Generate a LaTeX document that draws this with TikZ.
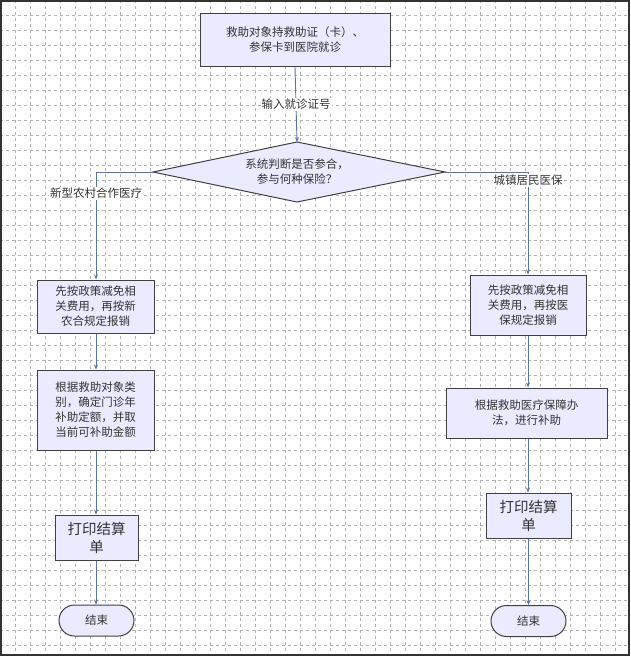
\documentclass[tikz,border=0pt]{standalone}
\usepackage{fontspec}
\newfontfamily\cjk{Noto Sans CJK SC}
\usetikzlibrary{shapes.misc,arrows.meta}
\begin{document}
\begin{tikzpicture}[x=1pt,y=-1pt,
  box/.style={draw=black!75,line width=1pt,fill=blue!8!white,align=center,font=\cjk\fontsize{11.5}{15}\selectfont,text=black!80,inner sep=1pt},
  dshape/.style={draw=black!75,line width=1pt,fill=blue!8!white},
  conn/.style={draw={rgb,255:red,90;green,116;blue,168},line width=0.9pt,-{Stealth[length=5pt,width=4pt]}},
  lab/.style={font=\cjk\fontsize{11.5}{14}\selectfont,text=black!80,fill=white,inner sep=1pt}]
\useasboundingbox (0,0) rectangle (630,656);
\fill[white] (0,0) rectangle (630,656);
\foreach \i in {15,30,...,645} {\draw[black!30,dashed,line width=0.4pt] (0,\i) -- (630,\i);}
\foreach \i in {15,30,...,625} {\draw[black!30,dashed,line width=0.4pt] (\i,0) -- (\i,656);}
\draw[black!80,line width=1.5pt] (1,1) rectangle (629,655);
\node[box,minimum width=190,minimum height=53] (top) at (295,40) {救助对象持救助证（卡）、\\参保卡到医院就诊};
\draw[dshape] (153,172) coordinate (dl) -- (297,142) coordinate (dt) -- (445,172) coordinate (dr) -- (297,202) -- cycle;
\node[align=center,font=\cjk\fontsize{11.5}{15}\selectfont,text=black!80] (d) at (297,172) {系统判断是否参合，\\参与何种保险？};
\node[box,minimum width=117,minimum height=53] (l1) at (95.5,306.5) {先按政策减免相\\关费用，再按新\\农合规定报销};
\node[box,minimum width=117,minimum height=80] (l2) at (95.5,410) {根据救助对象类\\别，确定门诊年\\补助定额，并取\\当前可补助金额};
\node[box,minimum width=83,minimum height=45,font=\cjk\fontsize{14.5}{18}\selectfont] (l3) at (96.5,537.5) {打印结算\\单};
\node[box,rounded rectangle,minimum width=77,minimum height=31] (l4) at (96.5,620.5) {结束};
\node[box,minimum width=116,minimum height=60] (r1) at (528,305) {先按政策减免相\\关费用，再按医\\保规定报销};
\node[box,minimum width=161,minimum height=50] (r2) at (526.5,413) {根据救助医疗保障办\\法，进行补助};
\node[box,minimum width=85,minimum height=45,font=\cjk\fontsize{14.5}{18}\selectfont] (r3) at (528.5,515.5) {打印结算\\单};
\node[box,rounded rectangle,minimum width=77,minimum height=31] (r4) at (528.5,621) {结束};
\draw[conn] (top.south) -- node[lab]{输入就诊证号} (dt);
\draw[conn] (dl) -- (96,172) -- node[lab,pos=0.2]{新型农村合作医疗} (l1.north -| 96,0);
\draw[conn] (dr) -- (528,172) -- node[lab,pos=0.08]{城镇居民医保} (r1.north);
\draw[conn] (l1.south -| 96,0) -- (l2.north -| 96,0);
\draw[conn] (l2.south -| 96,0) -- (l3.north -| 96,0);
\draw[conn] (l3.south -| 96,0) -- (l4.north -| 96,0);
\draw[conn] (r1.south) -- (r2.north -| r1.south);
\draw[conn] (r2.south -| r1.south) -- (r3.north -| r1.south);
\draw[conn] (r3.south) -- (r4.north);
\end{tikzpicture}
\end{document}
